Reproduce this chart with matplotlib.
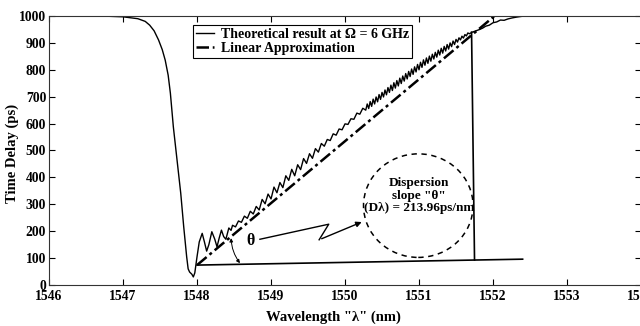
import matplotlib
matplotlib.use("Agg")
import matplotlib.pyplot as plt
from matplotlib.patches import Ellipse

plt.rcParams['font.family'] = ['Liberation Serif', 'DejaVu Serif']
plt.rcParams['font.weight'] = 'bold'
plt.rcParams['axes.labelweight'] = 'bold'

# theoretical time delay curve (wavelength nm, delay ps)
wl = [1546.44, 1546.8, 1547.0, 1547.2, 1547.3, 1547.36, 1547.42, 1547.48, 1547.53, 1547.57,
      1547.61, 1547.64, 1547.68, 1547.73, 1547.78, 1547.82, 1547.86, 1547.88, 1547.90, 1547.93,
      1547.95, 1547.97, 1548.00, 1548.03, 1548.07, 1548.10, 1548.13, 1548.16, 1548.20, 1548.24,
      1548.27, 1548.30, 1548.33, 1548.36, 1548.39, 1548.43, 1548.46, 1548.48, 1548.52, 1548.56,
      1548.60, 1548.64, 1548.68, 1548.72, 1548.76, 1548.80, 1548.84, 1548.88, 1548.92, 1548.96,
      1549.00, 1549.04, 1549.08, 1549.12, 1549.16, 1549.20, 1549.24, 1549.28, 1549.32, 1549.36,
      1549.40, 1549.44, 1549.48, 1549.52, 1549.56, 1549.60, 1549.64, 1549.68, 1549.72, 1549.76,
      1549.80, 1549.84, 1549.88, 1549.92, 1549.96, 1550.00, 1550.04, 1550.08, 1550.12, 1550.16,
      1550.20, 1550.24, 1550.28, 1550.30, 1550.32, 1550.34, 1550.36, 1550.38, 1550.40, 1550.42,
      1550.44, 1550.46, 1550.48, 1550.50, 1550.52, 1550.54, 1550.56, 1550.58, 1550.60, 1550.62,
      1550.64, 1550.66, 1550.68, 1550.70, 1550.72, 1550.74, 1550.76, 1550.78, 1550.80, 1550.82,
      1550.84, 1550.86, 1550.88, 1550.90, 1550.92, 1550.94, 1550.96, 1550.98, 1551.00, 1551.02,
      1551.04, 1551.06, 1551.08, 1551.10, 1551.12, 1551.14, 1551.16, 1551.18, 1551.20, 1551.22,
      1551.24, 1551.26, 1551.28, 1551.30, 1551.32, 1551.34, 1551.36, 1551.38, 1551.40, 1551.42,
      1551.44, 1551.46, 1551.48, 1551.50, 1551.52, 1551.54, 1551.56, 1551.58, 1551.60, 1551.62,
      1551.64, 1551.66, 1551.68, 1551.72, 1551.76, 1551.82, 1551.86, 1551.90, 1551.95, 1552.00,
      1552.05, 1552.10, 1552.15, 1552.20, 1552.26, 1552.32, 1552.42, 1553.45]
delay = [1000, 999, 997, 990, 980, 966, 945, 911, 875, 836,
         780, 713, 588, 465, 341, 217, 105, 60, 48, 40,
         30, 45, 105, 160, 192, 160, 126, 150, 198, 170,
         142, 175, 204, 180, 170, 212, 203, 222, 216, 238,
         233, 256, 248, 274, 264, 292, 279, 318, 302, 338,
         320, 364, 343, 381, 362, 406, 389, 430, 406, 447,
         429, 470, 452, 488, 471, 507, 494, 526, 516, 541,
         537, 562, 557, 580, 577, 599, 597, 618, 616, 639,
         635, 657, 650, 673, 656, 682, 664, 691, 673, 699,
         681, 708, 690, 716, 699, 725, 707, 734, 716, 743,
         723, 752, 732, 760, 740, 769, 749, 777, 758, 786,
         766, 794, 775, 803, 783, 811, 792, 820, 800, 828,
         809, 837, 817, 844, 824, 851, 832, 858, 840, 865,
         847, 873, 855, 880, 862, 887, 870, 894, 877, 900,
         886, 907, 894, 913, 903, 919, 911, 925, 918, 931,
         926, 937, 934, 940, 944, 950, 955, 962, 966, 975,
         978, 985, 984, 989, 993, 996, 1000, 1000]

# linear approximation end points
lin_wl = [1548.0, 1552.02]
lin_delay = [74, 1000]

# construction lines (base line and vertical drop)
base_wl = [1548.0, 1552.4]
base_delay = [74, 96]
vert_wl = [1551.71, 1551.75]
vert_delay = [940, 93]

# zig-zag pointer from theta to the circle
zig_wl = [1548.85, 1549.78, 1549.65, 1550.26]
zig_delay = [170, 226, 168, 238]

xticks = [1546, 1547, 1548, 1549, 1550, 1551, 1552, 1553, 1554]
yticks = [0, 100, 200, 300, 400, 500, 600, 700, 800, 900, 1000]

fig = plt.figure(figsize=(6.4, 3.26), dpi=100)
ax = fig.add_axes([0.0766, 0.1258, 0.925, 0.8251])

ax.plot(wl, delay, color='black', lw=1.0, label=u'Theoretical result at \u03a9 = 6 GHz')
ax.plot(lin_wl, lin_delay, color='black', lw=1.8, linestyle=(0, (5, 1.5, 1.2, 1.5)),
        label='Linear Approximation')
ax.plot(base_wl, base_delay, color='black', lw=1.2)
ax.plot(vert_wl, vert_delay, color='black', lw=1.2)

# zig-zag arrow
ax.plot(zig_wl[:3], zig_delay[:3], color='black', lw=1.0)
ax.annotate('', xy=(zig_wl[3], zig_delay[3]), xytext=(zig_wl[2], zig_delay[2]),
            arrowprops=dict(arrowstyle='-|>', color='black', lw=1.0, mutation_scale=8))

# angle marker
ax.annotate('', xy=(1548.58, 81), xytext=(1548.46, 174),
            arrowprops=dict(arrowstyle='<|-|>', color='black', lw=0.7, mutation_scale=5,
                            shrinkA=0, shrinkB=0, connectionstyle='arc3,rad=0.15'))
ax.text(1548.72, 162, u'\u03b8', fontsize=11.5, ha='center', va='center')

# dashed circle with the slope note
circ = Ellipse((1550.99, 295), 1.48, 385, fill=False, edgecolor='black', lw=1.1,
               linestyle=(0, (3.5, 3)))
ax.add_patch(circ)
ax.text(1551.0, 332, u'Dispersion\nslope "\u03b8"\n(D\u03bb) = 213.96ps/nm', fontsize=9.5,
        ha='center', va='center', linespacing=1.05)

ax.set_xlim(1546, 1554)
ax.set_ylim(0, 1000)
ax.set_xticks(xticks)
ax.set_yticks(yticks)
ax.tick_params(direction='in', top=True, right=True, length=4, width=0.8, labelsize=9.8)
ax.tick_params(axis='y', pad=2)
for s in ax.spines.values():
    s.set_linewidth(0.8)
    s.set_color('#333333')

ax.set_xlabel(u'Wavelength "\u03bb" (nm)', fontsize=10.5)
ax.xaxis.set_label_coords(0.48, -0.095)
ax.set_ylabel('Time Delay (ps)', fontsize=10.5)
ax.yaxis.set_label_coords(-0.051, 0.49)

leg = ax.legend(loc='upper left', bbox_to_anchor=(0.243, 0.965), fontsize=10,
                handlelength=1.3, handletextpad=0.5, labelspacing=0.05,
                borderpad=0.2, borderaxespad=0, fancybox=False, framealpha=1)
leg.get_frame().set_edgecolor('black')
leg.get_frame().set_linewidth(0.8)

plt.savefig('out.png', dpi=100)
